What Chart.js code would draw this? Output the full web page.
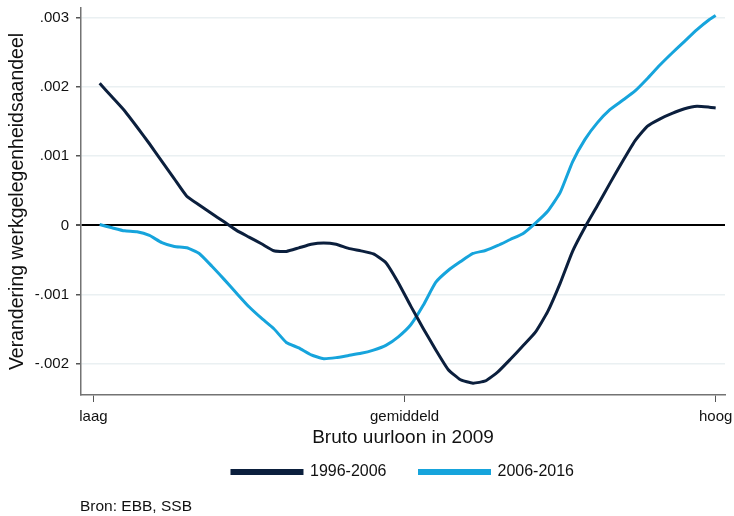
<!DOCTYPE html>
<html lang="nl">
<head>
    <meta charset="UTF-8">
    <title>Verandering werkgelegenheidsaandeel</title>
    <script src="https://cdn.jsdelivr.net/npm/chart.js"></script>
    <style>
        body { margin: 0; background-color: #fff; }
        .chart-box { position: relative; width: 734px; height: 516px; }
    </style>
</head>
<body>
    <div class="chart-box">
        <canvas id="loonChart"></canvas>
    </div>

    <script>
        // loonpercentiel (0 = laag, 50 = gemiddeld, 100 = hoog)
        const percentiles = [1, 3, 5, 7, 9, 11, 13, 15, 17, 19, 21, 23, 25, 27, 29, 31, 33, 35, 37, 39,
            41, 43, 45, 47, 49, 51, 53, 55, 57, 59, 61, 63, 65, 67, 69, 71, 73, 75, 77, 79,
            81, 83, 85, 87, 89, 91, 93, 95, 97, 99, 100];

        // verandering in duizendsten
        const change1996 = [2.052, 1.854, 1.656, 1.421, 1.179, 0.925, 0.672, 0.422, 0.295, 0.172,
            0.051, -0.072, -0.169, -0.266, -0.367, -0.376, -0.325, -0.272, -0.253, -0.272,
            -0.332, -0.368, -0.412, -0.539, -0.828, -1.166, -1.488, -1.796, -2.081, -2.230,
            -2.279, -2.247, -2.116, -1.934, -1.743, -1.546, -1.246, -0.837, -0.374, -0.026,
            0.286, 0.607, 0.919, 1.218, 1.431, 1.536, 1.617, 1.684, 1.721, 1.708, 1.697];

        const change2006 = [0.012, -0.035, -0.079, -0.092, -0.146, -0.250, -0.306, -0.324, -0.406, -0.587,
            -0.780, -0.980, -1.176, -1.341, -1.493, -1.691, -1.770, -1.871, -1.926, -1.910,
            -1.879, -1.848, -1.801, -1.733, -1.610, -1.436, -1.155, -0.824, -0.652, -0.523,
            -0.406, -0.363, -0.290, -0.204, -0.120, 0.030, 0.204, 0.473, 0.919, 1.243,
            1.484, 1.671, 1.803, 1.938, 2.118, 2.312, 2.490, 2.659, 2.827, 2.973, 3.032];

        const seriesLabels = ['1996-2006', '2006-2016'];
        const xTickValues = [0, 50, 100];
        const xTickLabels = ['laag', 'gemiddeld', 'hoog'];
        const yTickValues = [-2, -1, 0, 1, 2, 3];

        const FONT = "'Liberation Sans', Arial, sans-serif";

        function formatTick(v) {
            if (v === 0) return '0';
            const s = '.' + String(Math.abs(v)).padStart(3, '0');
            return v < 0 ? '-' + s : s;
        }

        // bronvermelding onder de legenda
        const sourceNote = {
            id: 'sourceNote',
            afterDraw(chart) {
                const ctx = chart.ctx;
                ctx.save();
                ctx.font = '15.5px ' + FONT;
                ctx.fillStyle = '#111';
                ctx.textBaseline = 'middle';
                ctx.fillText('Bron: EBB, SSB', 80, 507);
                ctx.restore();
            }
        };

        new Chart(document.getElementById('loonChart'), {
            type: 'line',
            data: {
                datasets: [{
                    label: seriesLabels[0],
                    data: percentiles.map((p, i) => ({ x: p, y: change1996[i] })),
                    borderColor: '#0b1f3d',
                    backgroundColor: '#0b1f3d',
                    borderWidth: 3,
                    pointRadius: 0,
                    tension: 0.15
                }, {
                    label: seriesLabels[1],
                    data: percentiles.map((p, i) => ({ x: p, y: change2006[i] })),
                    borderColor: '#16a4dc',
                    backgroundColor: '#16a4dc',
                    borderWidth: 3,
                    pointRadius: 0,
                    tension: 0.15
                }]
            },
            options: {
                responsive: true,
                maintainAspectRatio: false,
                animation: false,
                layout: { padding: { top: 8, right: 9, bottom: 26, left: 0 } },
                plugins: {
                    tooltip: { enabled: false },
                    legend: {
                        position: 'bottom',
                        fullSize: false,
                        labels: {
                            boxWidth: 70,
                            boxHeight: 3,
                            padding: 33,
                            color: '#111',
                            font: { family: FONT, size: 16 }
                        }
                    }
                },
                scales: {
                    x: {
                        type: 'linear',
                        min: -2,
                        max: 101.5,
                        afterBuildTicks: s => { s.ticks = xTickValues.map(v => ({ value: v })); },
                        afterFit: s => {
                            s.height = 36;
                            s.paddingLeft = 0;
                            s.paddingRight = 0;
                        },
                        ticks: {
                            autoSkip: false,
                            maxRotation: 0,
                            padding: 6,
                            color: '#111',
                            font: { family: FONT, size: 15 },
                            callback: (v, i) => xTickLabels[i]
                        },
                        grid: {
                            drawOnChartArea: false,
                            tickLength: 7,
                            tickColor: '#555'
                        },
                        border: { color: '#737373', width: 1.5 },
                        title: {
                            display: true,
                            text: 'Bruto uurloon in 2009',
                            color: '#111',
                            font: { family: FONT, size: 19 },
                            padding: { top: 0, bottom: -18 }
                        }
                    },
                    y: {
                        min: -2.45,
                        max: 3.14,
                        afterBuildTicks: s => { s.ticks = yTickValues.map(v => ({ value: v })); },
                        afterFit: s => {
                            s.width = 81;
                            s.paddingTop = 0;
                            s.paddingBottom = 0;
                        },
                        ticks: {
                            padding: 7,
                            color: '#111',
                            font: { family: FONT, size: 15 },
                            callback: v => formatTick(v)
                        },
                        grid: {
                            tickLength: 5,
                            tickColor: '#555',
                            color: c => c.tick && c.tick.value === 0 ? '#000' : '#eaf0f2',
                            lineWidth: c => c.tick && c.tick.value === 0 ? 2 : 1.5
                        },
                        border: { color: '#737373', width: 1.5 },
                        title: {
                            display: true,
                            text: 'Verandering werkgelegenheidsaandeel',
                            color: '#111',
                            font: { family: FONT, size: 19.5 },
                            padding: { top: 6, bottom: 0 }
                        }
                    }
                }
            },
            plugins: [sourceNote]
        });
    </script>
</body>
</html>
